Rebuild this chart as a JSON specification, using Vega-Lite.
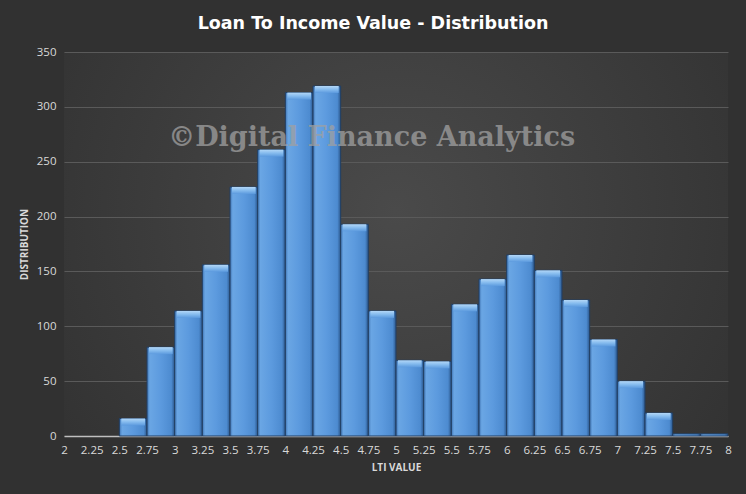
{
  "$schema": "https://vega.github.io/schema/vega-lite/v6.json",
  "width": 664,
  "height": 384,
  "autosize": {"type": "none"},
  "padding": {"left": 64, "top": 52, "right": 18, "bottom": 58},
  "background": "#313131",
  "title": {
    "text": "Loan To Income Value - Distribution",
    "font": "DejaVu Sans",
    "fontSize": 17.5,
    "fontWeight": "bold",
    "color": "#ffffff",
    "anchor": "middle",
    "dx": -23,
    "offset": 14
  },
  "config": {
    "view": {
      "stroke": null,
      "fill": {
        "gradient": "radial",
        "x1": 0.5, "y1": 0.45, "r1": 0,
        "x2": 0.5, "y2": 0.45, "r2": 0.75,
        "stops": [
          {"offset": 0, "color": "#4a4a4a"},
          {"offset": 1, "color": "#2d2d2d"}
        ]
      }
    },
    "axis": {
      "labelFont": "Open Sans",
      "labelFontSize": 11.5,
      "labelColor": "#d9d9d9",
      "titleFont": "Open Sans",
      "titleFontSize": 10,
      "titleFontWeight": "bold",
      "titleColor": "#d9d9d9",
      "gridColor": "#5a5a5a",
      "gridWidth": 1,
      "domain": false,
      "ticks": false
    }
  },
  "data": {
    "values": [
      {"lo": 2.5, "hi": 2.75, "count": 16},
      {"lo": 2.75, "hi": 3.0, "count": 81},
      {"lo": 3.0, "hi": 3.25, "count": 114},
      {"lo": 3.25, "hi": 3.5, "count": 156},
      {"lo": 3.5, "hi": 3.75, "count": 227},
      {"lo": 3.75, "hi": 4.0, "count": 261},
      {"lo": 4.0, "hi": 4.25, "count": 313},
      {"lo": 4.25, "hi": 4.5, "count": 319},
      {"lo": 4.5, "hi": 4.75, "count": 193},
      {"lo": 4.75, "hi": 5.0, "count": 114},
      {"lo": 5.0, "hi": 5.25, "count": 69},
      {"lo": 5.25, "hi": 5.5, "count": 68},
      {"lo": 5.5, "hi": 5.75, "count": 120},
      {"lo": 5.75, "hi": 6.0, "count": 143},
      {"lo": 6.0, "hi": 6.25, "count": 165},
      {"lo": 6.25, "hi": 6.5, "count": 151},
      {"lo": 6.5, "hi": 6.75, "count": 124},
      {"lo": 6.75, "hi": 7.0, "count": 88},
      {"lo": 7.0, "hi": 7.25, "count": 50},
      {"lo": 7.25, "hi": 7.5, "count": 21},
      {"lo": 7.5, "hi": 7.75, "count": 2},
      {"lo": 7.75, "hi": 8.0, "count": 2}
    ]
  },
  "encoding": {
    "x": {
      "field": "lo",
      "type": "quantitative",
      "scale": {"domain": [2, 8], "nice": false, "zero": false},
      "axis": {
        "title": "LTI VALUE",
        "values": [2, 2.25, 2.5, 2.75, 3, 3.25, 3.5, 3.75, 4, 4.25, 4.5, 4.75, 5, 5.25, 5.5, 5.75, 6, 6.25, 6.5, 6.75, 7, 7.25, 7.5, 7.75, 8],
        "format": ".2~f",
        "grid": false,
        "domain": true,
        "domainColor": "#bfbfbf",
        "domainWidth": 1.5,
        "labelPadding": 8,
        "titlePadding": 7,
        "labelFlush": false,
        "labelOverlap": false
      }
    },
    "x2": {"field": "hi"},
    "y": {
      "field": "count",
      "type": "quantitative",
      "stack": null,
      "scale": {"domain": [0, 350], "nice": false},
      "axis": {
        "title": "DISTRIBUTION",
        "values": [0, 50, 100, 150, 200, 250, 300, 350],
        "grid": true,
        "labelPadding": 8,
        "titlePadding": 7
      }
    }
  },
  "layer": [
    {
      "mark": {
        "type": "bar",
        "stroke": "#223f63",
        "strokeWidth": 1,
        "fill": {
          "gradient": "linear",
          "x1": 0, "y1": 0, "x2": 1, "y2": 0,
          "stops": [
            {"offset": 0, "color": "#3f74b3"},
            {"offset": 0.1, "color": "#6aa6e4"},
            {"offset": 0.5, "color": "#5c9ade"},
            {"offset": 0.88, "color": "#4d8bd0"},
            {"offset": 1, "color": "#2b578c"}
          ]
        }
      },
      "encoding": {
        "y2": {"datum": 0}
      }
    },
    {
      "transform": [{"filter": "datum.count >= 10"}],
      "mark": {
        "type": "bar",
        "xOffset": 2,
        "x2Offset": -2,
        "y2Offset": 7,
        "fill": {
          "gradient": "linear",
          "x1": 0, "y1": 0, "x2": 0, "y2": 1,
          "stops": [
            {"offset": 0, "color": "#b3d7f7"},
            {"offset": 0.5, "color": "#85bbee"},
            {"offset": 1, "color": "#5c9ade"}
          ]
        }
      },
      "encoding": {
        "y2": {"field": "count"}
      }
    },
    {
      "transform": [{"filter": "datum.lo == 4.75"}],
      "mark": {
        "type": "text",
        "text": "©Digital Finance Analytics",
        "font": "DejaVu Serif",
        "fontSize": 27,
        "fontWeight": "bold",
        "color": "#a0a0a0",
        "opacity": 0.75,
        "align": "center",
        "baseline": "middle"
      },
      "encoding": {
        "x": {"datum": 4.78, "type": "quantitative"},
        "y": {"datum": 272, "type": "quantitative"},
        "x2": null
      }
    }
  ]
}
